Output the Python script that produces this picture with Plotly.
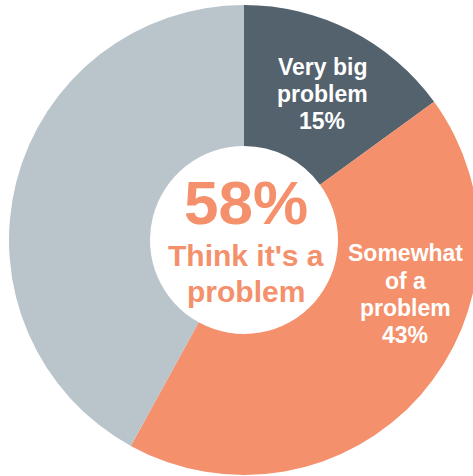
import plotly.graph_objects as go

# ---- data ----
categories = ["Very big problem", "Somewhat of a problem", "Not a problem"]
values = [15, 43, 42]
label_lines = [["Very big", "problem"], ["Somewhat", "of a", "problem"], []]
colors = ["#53626d", "#f4906b", "#b9c4cb"]
center_lines = ["Think it's a", "problem"]
center_value = values[0] + values[1]

W, H = 480, 476

fig = go.Figure(go.Pie(
    labels=categories,
    values=values,
    hole=0.4,
    sort=False,
    direction="clockwise",
    rotation=0,
    marker=dict(colors=colors, line=dict(width=0)),
    textinfo="none",
    hoverinfo="label+percent",
    domain=dict(x=[9 / W, 479 / W], y=[1 - 475 / H, 1 - 5 / H]),
    showlegend=False,
))

def px(x):
    return x / W

def py(y):
    return 1 - y / H

annotations = []
white = dict(family="Liberation Sans, Arial, sans-serif", size=23, color="white")

# slice labels: lines + percentage
label_pos = [
    (322, [67.5, 94.5, 121.5]),
    (405, [252.5, 280.5, 307.5, 334.5]),
]
for i, (cx, ys) in enumerate(label_pos):
    lines = label_lines[i] + [f"{values[i]}%"]
    for text, y in zip(lines, ys):
        annotations.append(dict(
            x=px(cx), y=py(y), xref="paper", yref="paper",
            text=f"<b>{text}</b>", showarrow=False,
            xanchor="center", yanchor="middle", font=white,
        ))

salmon = colors[1]
annotations.append(dict(
    x=px(246), y=py(202), xref="paper", yref="paper",
    text=f"<b>{center_value}%</b>", showarrow=False,
    xanchor="center", yanchor="middle",
    font=dict(family="Liberation Sans, Arial, sans-serif", size=62, color=salmon),
))
for text, y in zip(center_lines, [255, 291]):
    annotations.append(dict(
        x=px(246), y=py(y), xref="paper", yref="paper",
        text=f"<b>{text}</b>", showarrow=False,
        xanchor="center", yanchor="middle",
        font=dict(family="Liberation Sans, Arial, sans-serif", size=30, color=salmon),
    ))

fig.update_layout(
    width=W, height=H,
    margin=dict(l=0, r=0, t=0, b=0),
    paper_bgcolor="white",
    plot_bgcolor="white",
    annotations=annotations,
)

fig.write_html(
    "out.html",
    config={"displayModeBar": False},
    post_script="document.body.style.margin='0';document.body.style.overflow='hidden';",
)
